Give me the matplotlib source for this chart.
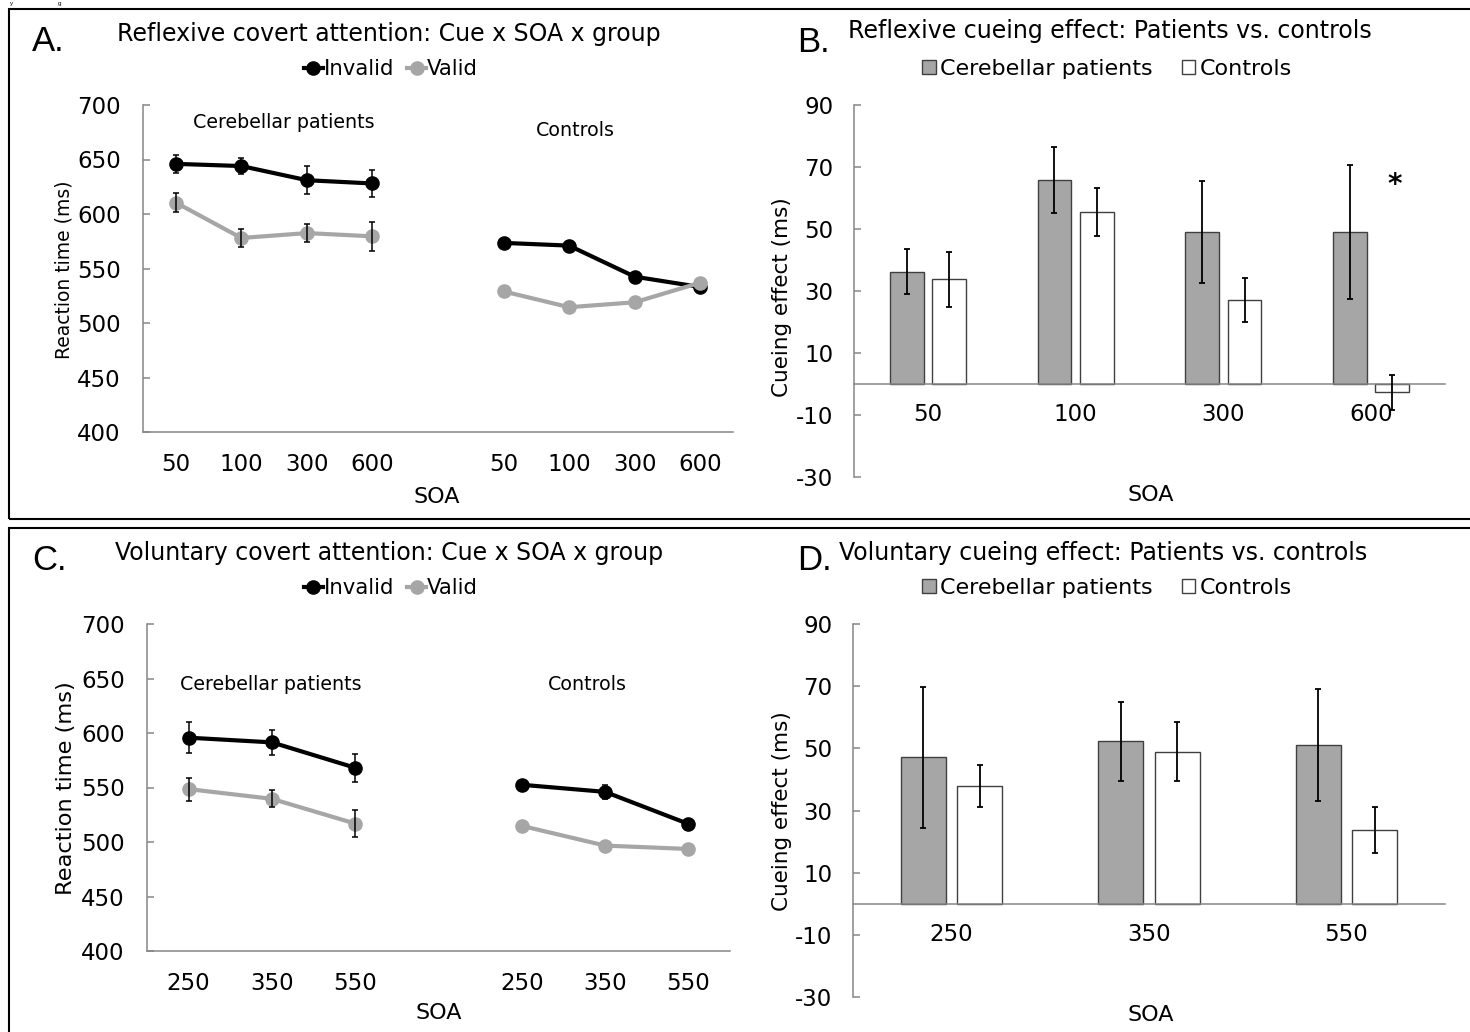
import numpy as np
import matplotlib
matplotlib.use("Agg")
import matplotlib.pyplot as plt
from matplotlib.lines import Line2D
from matplotlib.patches import Patch, Rectangle

# ---------------- data ----------------
soa_reflexive = ["50", "100", "300", "600"]
soa_voluntary = ["250", "350", "550"]

# Panel A (reflexive RT)
a_pat_invalid = [646, 644, 631, 628]
a_pat_invalid_err = [8, 7, 13, 12.5]
a_pat_valid = [610.5, 578, 582.5, 579.5]
a_pat_valid_err = [9, 8.4, 8.4, 13.3]
a_con_invalid = [573.5, 571, 542.5, 533]
a_con_invalid_err = [None, None, None, None]
a_con_valid = [529, 514.5, 519, 537]
a_con_valid_err = [None, None, None, None]

# Panel B (reflexive cueing effect)
b_patients = [36.2, 65.9, 49.0, 49.1]
b_patients_err = [7.3, 10.6, 16.5, 21.7]
b_controls = [33.8, 55.4, 27.1, -2.7]
b_controls_err = [8.9, 7.7, 7.0, 5.6]

# Panel C (voluntary RT)
c_pat_invalid = [595.7, 591.4, 568.1]
c_pat_invalid_err = [14.4, 11.8, 12.7]
c_pat_valid = [548.5, 539.6, 516.9]
c_pat_valid_err = [10.6, 7.7, 12.0]
c_con_invalid = [552.5, 546, 516.6]
c_con_invalid_err = [None, 6.7, None]
c_con_valid = [514.8, 496.7, 493.6]
c_con_valid_err = [None, None, None]

# Panel D (voluntary cueing effect)
d_patients = [47.1, 52.3, 51.1]
d_patients_err = [22.6, 12.7, 18.1]
d_controls = [37.8, 48.9, 23.6]
d_controls_err = [6.7, 9.5, 7.4]

# ---------------- style ----------------
W, H = 1470, 1032
BLACK = "#000000"
GRAY = "#a6a6a6"
AXC = "#868686"
EDGE = "#404040"
TICK_FS = 16.5
plt.rcParams['font.family'] = ['DejaVu Sans']
plt.rcParams['axes.unicode_minus'] = False

fig = plt.figure(figsize=(W / 100, H / 100), dpi=100)


def fx(x):
    return x / W


def fy(y):
    return 1 - y / H


def add_axes(x0, x1, ytop, ybot):
    return fig.add_axes([fx(x0), fy(ybot), fx(x1) - fx(x0), fy(ytop) - fy(ybot)])


def style_axes(ax, ypad):
    for s in ["top", "right"]:
        ax.spines[s].set_visible(False)
    for s in ["left", "bottom"]:
        ax.spines[s].set_color(AXC)
        ax.spines[s].set_linewidth(1.1)
    ax.tick_params(axis="y", direction="in", length=5, width=1.1, color=AXC,
                   labelsize=TICK_FS, pad=ypad)
    ax.tick_params(axis="x", length=0, labelsize=TICK_FS)


def draw_err(ax, xs, ys, errs):
    pts = [(x, y, e) for x, y, e in zip(xs, ys, errs) if e is not None]
    if not pts:
        return
    px, py, pe = zip(*pts)
    ax.errorbar(px, py, yerr=pe, fmt="none", ecolor=BLACK, elinewidth=1.1,
                capsize=2, capthick=1.1, zorder=5)


def line_panel(ax, soa, pi, pie, pv, pve, ci, cie, cv, cve):
    n = len(soa)
    xp = np.arange(n)
    xc = np.arange(n) + n + 1
    for xs, inv, inve, val, vale in [(xp, pi, pie, pv, pve), (xc, ci, cie, cv, cve)]:
        ax.plot(xs, inv, color=BLACK, lw=3, marker="o", ms=9.5, zorder=3)
        ax.plot(xs, val, color=GRAY, lw=3, marker="o", ms=9.5, zorder=4)
        draw_err(ax, xs, inv, inve)
        draw_err(ax, xs, val, vale)
    ax.set_xlim(-0.5, 2 * n + 0.5)
    ax.set_ylim(400, 700)
    ax.set_yticks(np.arange(400, 701, 50))
    ax.set_xticks(list(xp) + list(xc))
    ax.set_xticklabels(soa + soa)
    style_axes(ax, 16)
    ax.tick_params(axis="x", pad=15)


def bar_panel(ax, soa, pat, pate, con, cone):
    n = len(soa)
    x = np.arange(n)
    w = 0.228
    off = 0.143
    ax.bar(x - off, pat, width=w, color=GRAY, edgecolor=EDGE, linewidth=1, zorder=2)
    ax.bar(x + off, con, width=w, color="white", edgecolor=EDGE, linewidth=1, zorder=2)
    ax.errorbar(x - off, pat, yerr=pate, fmt="none", ecolor=BLACK, elinewidth=1.3,
                capsize=2, capthick=1.3, zorder=4)
    ax.errorbar(x + off, con, yerr=cone, fmt="none", ecolor=BLACK, elinewidth=1.3,
                capsize=2, capthick=1.3, zorder=4)
    ax.set_xlim(-0.5, n - 0.5)
    ax.set_ylim(-30, 90)
    ax.set_yticks(np.arange(-30, 91, 20))
    ax.set_xticks(x)
    ax.set_xticklabels(soa)
    style_axes(ax, 15)
    ax.spines["bottom"].set_position(("data", 0))
    ax.spines["bottom"].set_zorder(3)
    ax.tick_params(axis="x", pad=14)


# ---------------- frames ----------------
fig.add_artist(Rectangle((fx(9), fy(519)), 1.2, fy(9) - fy(519), transform=fig.transFigure,
                         fill=False, edgecolor="black", lw=1.5))
fig.add_artist(Rectangle((fx(9), -0.2), 1.2, fy(528) + 0.2, transform=fig.transFigure,
                         fill=False, edgecolor="black", lw=1.5))
fig.text(fx(10), fy(0.5), "y", fontsize=4.5, family="Liberation Sans", va="top")
fig.text(fx(58), fy(0.5), "g", fontsize=4.5, family="Liberation Sans", va="top")

# ---------------- panel A ----------------
axA = add_axes(143, 733, 105, 432)
line_panel(axA, soa_reflexive, a_pat_invalid, a_pat_invalid_err, a_pat_valid, a_pat_valid_err,
           a_con_invalid, a_con_invalid_err, a_con_valid, a_con_valid_err)
fig.text(fx(284), fy(122), "Cerebellar patients", fontsize=13.7, ha="center", va="center")
fig.text(fx(575), fy(130), "Controls", fontsize=13.7, ha="center", va="center")
fig.text(fx(64), fy(270), "Reaction time (ms)", fontsize=13.5, rotation=90, ha="center", va="center")
fig.text(fx(437), fy(497), "SOA", fontsize=16, ha="center", va="center")
fig.text(fx(389), fy(41), "Reflexive covert attention: Cue x SOA x group", fontsize=17,
         ha="center", va="baseline")
fig.text(fx(32), fy(51), "A.", fontsize=25, family="Liberation Sans", va="baseline")

# ---------------- panel C ----------------
axC = add_axes(147, 730, 624, 951)
line_panel(axC, soa_voluntary, c_pat_invalid, c_pat_invalid_err, c_pat_valid, c_pat_valid_err,
           c_con_invalid, c_con_invalid_err, c_con_valid, c_con_valid_err)
fig.text(fx(271), fy(684), "Cerebellar patients", fontsize=13.7, ha="center", va="center")
fig.text(fx(587), fy(685), "Controls", fontsize=13.7, ha="center", va="center")
fig.text(fx(66), fy(788), "Reaction time (ms)", fontsize=16.2, rotation=90, ha="center", va="center")
fig.text(fx(439), fy(1013), "SOA", fontsize=16, ha="center", va="center")
fig.text(fx(389), fy(560), "Voluntary covert attention: Cue x SOA x group", fontsize=17,
         ha="center", va="baseline")
fig.text(fx(32), fy(570), "C.", fontsize=25, family="Liberation Sans", va="baseline")

line_handles = [Line2D([], [], color=BLACK, lw=3, marker="o", ms=9.5),
                Line2D([], [], color=GRAY, lw=3, marker="o", ms=9.5)]
for ycen in (69, 588):
    fig.legend(line_handles, ["Invalid", "Valid"], loc="center",
               bbox_to_anchor=(fx(391), fy(ycen)), ncol=2, frameon=False,
               fontsize=15.3, handlelength=0.9, handletextpad=0.05, columnspacing=0.6,
               borderpad=0, borderaxespad=0)

# ---------------- panel B ----------------
axB = add_axes(854, 1445, 105, 477)
bar_panel(axB, soa_reflexive, b_patients, b_patients_err, b_controls, b_controls_err)
axB.text(3.16, 64.3, "*", fontsize=20, fontweight="bold", ha="center", va="center")
fig.text(fx(782), fy(297), "Cueing effect (ms)", fontsize=15.5, rotation=90, ha="center", va="center")
fig.text(fx(1151), fy(495), "SOA", fontsize=16, ha="center", va="center")
fig.text(fx(1110), fy(38), "Reflexive cueing effect: Patients vs. controls", fontsize=17,
         ha="center", va="baseline")
fig.text(fx(797), fy(52), "B.", fontsize=25, family="Liberation Sans", va="baseline")

# ---------------- panel D ----------------
axD = add_axes(853, 1445, 624, 997)
bar_panel(axD, soa_voluntary, d_patients, d_patients_err, d_controls, d_controls_err)
fig.text(fx(782), fy(811), "Cueing effect (ms)", fontsize=15.5, rotation=90, ha="center", va="center")
fig.text(fx(1151), fy(1015), "SOA", fontsize=16, ha="center", va="center")
fig.text(fx(1103), fy(560), "Voluntary cueing effect: Patients vs. controls", fontsize=17,
         ha="center", va="baseline")
fig.text(fx(797), fy(570), "D.", fontsize=25, family="Liberation Sans", va="baseline")

bar_handles = [Patch(facecolor=GRAY, edgecolor=EDGE, linewidth=1),
               Patch(facecolor="white", edgecolor=EDGE, linewidth=1)]
for ycen in (69, 588):
    fig.legend(bar_handles, ["Cerebellar patients", "Controls"], loc="center",
               bbox_to_anchor=(fx(1107), fy(ycen)), ncol=2, frameon=False,
               fontsize=16, handlelength=0.62, handleheight=0.62, handletextpad=0.2,
               columnspacing=1.3, borderpad=0, borderaxespad=0)

fig.savefig("out.png", dpi=100)
